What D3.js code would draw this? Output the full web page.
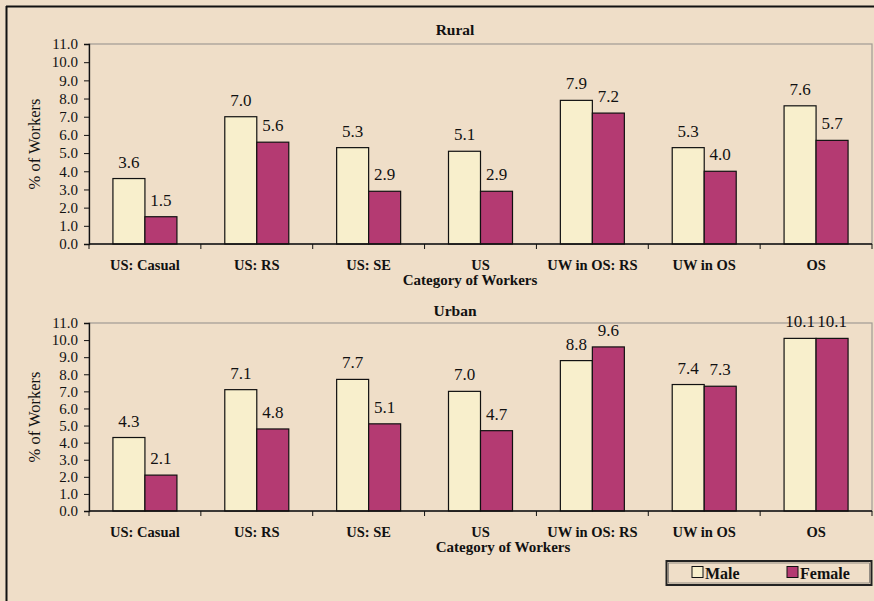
<!DOCTYPE html>
<html>
<head>
<meta charset="utf-8">
<script src="https://cdn.jsdelivr.net/npm/d3@7"></script>
<style>
  html, body { margin: 0; padding: 0; background: #EFDEC8; }
  svg { display: block; }
  text { font-family: "Liberation Serif", "Times New Roman", serif; fill: #111; }
</style>
</head>
<body>
<svg id="chart" width="874" height="601"></svg>
<script>
// Worker categories and the share of workers (%) in each, by sex
const categories = ["US: Casual", "US: RS", "US: SE", "US", "UW in OS: RS", "UW in OS", "OS"];
const ruralMale   = [3.6, 7.0, 5.3, 5.1, 7.9, 5.3, 7.6];
const ruralFemale = [1.5, 5.6, 2.9, 2.9, 7.2, 4.0, 5.7];
const urbanMale   = [4.3, 7.1, 7.7, 7.0, 8.8, 7.4, 10.1];
const urbanFemale = [2.1, 4.8, 5.1, 4.7, 9.6, 7.3, 10.1];
const yTicks = [0, 1, 2, 3, 4, 5, 6, 7, 8, 9, 10, 11];
const seriesNames = ["Male", "Female"];
const seriesColors = ["#F8EFCC", "#B43A72"];

const svg = d3.select("#chart");

// outer frame (top and left edges visible)
svg.append("line").attr("x1", 6).attr("x2", 874).attr("y1", 6.5).attr("y2", 6.5)
  .attr("stroke", "#111").attr("stroke-width", 2);
svg.append("line").attr("x1", 6.5).attr("x2", 6.5).attr("y1", 6).attr("y2", 601)
  .attr("stroke", "#111").attr("stroke-width", 2);

function panel(title, male, female, top, bottom, titleY, axisTitleX) {
  const left = 89, right = 872;
  const x = d3.scaleBand().domain(categories).range([left, right]);
  const inner = d3.scaleBand().domain(seriesNames).range([0, 64]);
  const y = d3.scaleLinear().domain([0, 11]).range([bottom, top]);
  const g = svg.append("g");

  // plot area outline
  g.append("rect").attr("x", left).attr("y", top)
    .attr("width", right - left).attr("height", bottom - top)
    .attr("fill", "none").attr("stroke", "#A09A94").attr("stroke-width", 1.2);

  g.append("text").attr("x", 455).attr("y", titleY)
    .attr("text-anchor", "middle").attr("font-weight", "bold").attr("font-size", 15.5)
    .text(title);

  const rows = categories.map((c, i) => ({ c, vals: [male[i], female[i]] }));
  const groups = g.selectAll("g.grp").data(rows).join("g")
    .attr("transform", d => `translate(${x(d.c) + x.bandwidth() / 2 - 32},0)`);
  groups.selectAll("rect").data(d => d.vals.map((v, j) => ({ v, s: seriesNames[j], j })))
    .join("rect")
    .attr("x", d => inner(d.s))
    .attr("y", d => y(d.v))
    .attr("width", inner.bandwidth())
    .attr("height", d => y(0) - y(d.v))
    .attr("fill", d => seriesColors[d.j])
    .attr("stroke", "#111").attr("stroke-width", 1.2);
  groups.selectAll("text").data(d => d.vals.map((v, j) => ({ v, s: seriesNames[j] })))
    .join("text")
    .attr("x", d => inner(d.s) + inner.bandwidth() / 2)
    .attr("y", d => y(d.v) - 11)
    .attr("text-anchor", "middle").attr("font-size", 17)
    .text(d => d3.format(".1f")(d.v));

  // y axis
  const ya = g.append("g").attr("transform", `translate(${left},0)`)
    .call(d3.axisLeft(y).tickValues(yTicks).tickFormat(d3.format(".1f")).tickSize(5).tickPadding(6));
  ya.select(".domain").attr("stroke", "#111").attr("stroke-width", 1.3);
  ya.selectAll(".tick line").attr("stroke", "#111");
  ya.selectAll(".tick text").attr("font-size", 15).attr("font-family", "Liberation Serif").attr("fill", "#111");

  // x axis: ticks at category boundaries
  const xa = g.append("g").attr("transform", `translate(0,${bottom})`);
  xa.append("line").attr("x1", left).attr("x2", right).attr("stroke", "#111").attr("stroke-width", 1.5);
  const bounds = categories.map(c => x(c)).concat([right]);
  xa.selectAll("line.tk").data(bounds).join("line").attr("class", "tk")
    .attr("x1", d => d).attr("x2", d => d).attr("y1", 0).attr("y2", 5)
    .attr("stroke", "#111");
  xa.selectAll("text").data(categories).join("text")
    .attr("x", d => x(d) + x.bandwidth() / 2).attr("y", 26)
    .attr("text-anchor", "middle").attr("font-weight", "bold").attr("font-size", 14.5)
    .text(d => d);
  xa.append("text").attr("x", axisTitleX).attr("y", 41)
    .attr("text-anchor", "middle").attr("font-weight", "bold").attr("font-size", 15)
    .text("Category of Workers");

  g.append("text")
    .attr("transform", `translate(40,${(top + bottom) / 2}) rotate(-90)`)
    .attr("text-anchor", "middle").attr("font-size", 16.5)
    .text("% of Workers");
}

panel("Rural", ruralMale, ruralFemale, 44, 244, 35, 470);
panel("Urban", urbanMale, urbanFemale, 323, 511, 316, 503);

// legend
const lg = svg.append("g");
lg.append("rect").attr("x", 666.5).attr("y", 561).attr("width", 205).attr("height", 24)
  .attr("fill", "none").attr("stroke", "#222").attr("stroke-width", 2);
lg.append("rect").attr("x", 668.5).attr("y", 563).attr("width", 201).attr("height", 20)
  .attr("fill", "none").attr("stroke", "#555").attr("stroke-width", 0.6);
const legX = [692, 787];
seriesNames.forEach((s, i) => {
  lg.append("rect").attr("x", legX[i]).attr("y", 566.5).attr("width", 11).attr("height", 11)
    .attr("fill", seriesColors[i]).attr("stroke", "#111").attr("stroke-width", 1);
  lg.append("text").attr("x", legX[i] + 13).attr("y", 578.5)
    .attr("font-weight", "bold").attr("font-size", 16).text(s);
});
</script>
</body>
</html>
